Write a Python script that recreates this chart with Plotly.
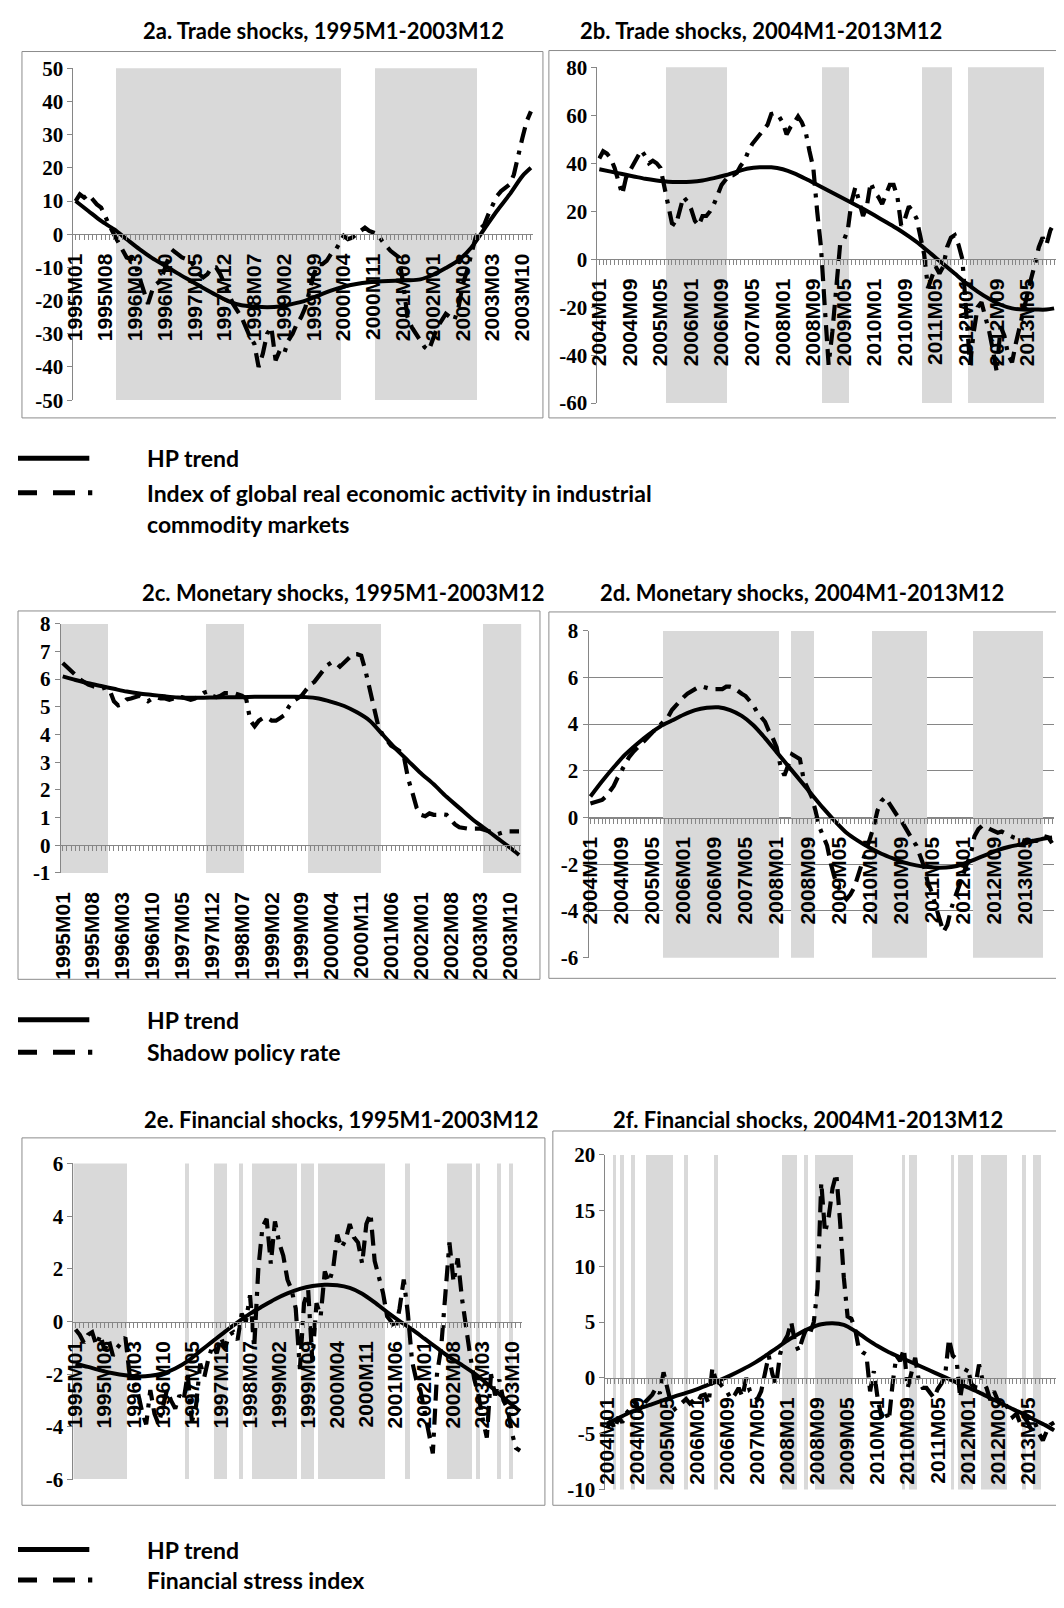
import plotly.graph_objects as go

# The page adds an 8px body margin, so the figure is sized to fill the 1064x1608 window exactly
OFF = 8
FW, FH = 1064 - 2 * OFF, 1608 - 2 * OFF


def month_labels(y0, y1):
    return [f"{y}M{m:02d}" for y in range(y0, y1 + 1) for m in range(1, 13)]


MONTHS_1 = month_labels(1995, 2003)   # 108 months
MONTHS_2 = month_labels(2004, 2013)   # 120 months

TICKS_1 = ["1995M01", "1995M08", "1996M03", "1996M10", "1997M05", "1997M12", "1998M07",
           "1999M02", "1999M09", "2000M04", "2000M11", "2001M06", "2002M01", "2002M08",
           "2003M03", "2003M10"]
TICKS_2 = ["2004M01", "2004M09", "2005M05", "2006M01", "2006M09", "2007M05", "2008M01",
           "2008M09", "2009M05", "2010M01", "2010M09", "2011M05", "2012M01", "2012M09",
           "2013M05"]

# ---------------- HP trends (read every 3rd month, plus the last month) ----------------
HP_A = [10, 7, 4, 1.5, -1.5, -4.5, -7.2, -9.5, -11.8, -14, -16.2, -18.3, -20.2, -21.4, -21.8,
        -22, -21.8, -21, -20, -18.5, -17, -15.8, -15, -14.5, -14.2, -14, -13.9, -13.6, -12.2,
        -10.2, -7.8, -4, 1.5, 7, 12, 17.5, 20]
HP_B = [37.5, 36.5, 35.5, 34.5, 33.5, 32.8, 32.3, 32.2, 32.3, 32.8, 33.8, 35, 36.5, 37.8, 38.3,
        38.3, 37.5, 35.8, 33.5, 31, 28.5, 26, 23.5, 21, 18.3, 15.5, 12.7, 9.5, 6, 2, -2, -6,
        -10, -13.5, -16.5, -19, -20.5, -21, -21, -21, -20.5]
HP_C = [6.1, 5.97, 5.85, 5.75, 5.65, 5.55, 5.48, 5.43, 5.38, 5.34, 5.33, 5.33, 5.34, 5.35, 5.35,
        5.36, 5.36, 5.36, 5.36, 5.35, 5.3, 5.18, 5.03, 4.8, 4.5, 4.0, 3.5, 3.05, 2.6, 2.2, 1.75,
        1.35, 0.95, 0.6, 0.25, -0.1, -0.35]
HP_D = [0.9, 1.55, 2.15, 2.7, 3.15, 3.55, 3.9, 4.15, 4.4, 4.6, 4.7, 4.72, 4.6, 4.35, 3.95, 3.4,
        2.8, 2.2, 1.6, 1.0, 0.4, -0.15, -0.65, -1.0, -1.3, -1.55, -1.75, -1.93, -2.05, -2.12,
        -2.15, -2.12, -2.0, -1.8, -1.6, -1.4, -1.25, -1.15, -1.02, -0.9, -0.85]
HP_E = [-1.6, -1.72, -1.85, -1.96, -2.04, -2.08, -2.06, -1.97, -1.78, -1.5, -1.12, -0.75, -0.38,
        -0.03, 0.3, 0.58, 0.85, 1.07, 1.24, 1.35, 1.4, 1.38, 1.28, 1.06, 0.73, 0.36, 0.02, -0.3,
        -0.65, -1.0, -1.35, -1.65, -1.97, -2.35, -2.75, -3.15, -3.4]
HP_F = [-4.1, -3.6, -3.1, -2.7, -2.35, -2.0, -1.65, -1.35, -1.0, -0.6, -0.2, 0.25, 0.75, 1.3,
        1.95, 2.65, 3.35, 3.95, 4.45, 4.8, 4.9, 4.75, 4.2, 3.5, 2.85, 2.3, 1.85, 1.4, 0.95, 0.5,
        0.05, -0.4, -0.85, -1.3, -1.8, -2.3, -2.8, -3.25, -3.8, -4.3, -4.7]

# ---------------- Monthly indices (one row per year) ----------------
# Index of global real economic activity in industrial commodity markets
ACT_A = [10, 12, 11, 12, 10.5, 9, 8, 5, 2.5, 0, -2.5, -5,
         -7, -7.5, -9, -13, -17, -21, -17, -15, -14, -10, -6.5, -5,
         -6, -7, -7.5, -8, -10, -12, -13, -12, -10, -10, -12, -15,
         -18, -21, -23, -25, -28, -31, -33, -40, -36, -30, -28, -38,
         -35, -36, -32, -30, -27, -25, -22, -17, -12, -9, -9, -8,
         -6, -5, -3, -0.5, -1.5, -1, 0, 1, 2, 1, 0.5, 0,
         -2, -3.7, -5, -6, -7, -15, -25, -28, -30, -32, -34, -35,
         -31, -28, -26, -24, -25, -26, -22, -15, -11, -6, -1, 1.5,
         2.8, 6, 8.5, 11.5, 13, 14, 15, 18, 24, 29, 34, 37]
ACT_B = [42, 45, 44, 42, 38, 33, 27, 34, 37, 40, 43, 45.5,
         43, 40, 41, 40, 38, 30, 22, 15, 14, 20, 26, 24,
         21, 16, 14, 18, 18, 20, 23, 27, 31, 33, 35, 35,
         36, 39, 41, 45, 48, 50, 52, 54.5, 56, 60.5, 61, 59.5,
         57, 52, 55, 57, 59.5, 57, 53, 45, 38, 20, 5, -20,
         -44, -30, -10, 6, 8, 12, 24, 30, 24, 18, 22, 32,
         28, 26, 23, 27, 31, 31, 26, 14, 17, 22, 20, 17,
         10, 2, -12, -8, -3, -6, -3, 5, 9, 10, 6, 0,
         -20, -44, -30, -20, -18, -24, -30, -38, -47, -28, -32, -40,
         -43, -35, -28, -22, -15, -8, -2, 5, 9, 6, 12, 15]
# Shadow policy rate
RATE_C = [6.58, 6.45, 6.3, 6.15, 6.0, 5.9, 5.8, 5.75, 5.7, 5.65, 5.7, 5.6,
          5.2, 5.05, 5.1, 5.27, 5.3, 5.35, 5.4, 5.3, 5.2, 5.3, 5.35, 5.3,
          5.3, 5.25, 5.3, 5.3, 5.35, 5.3, 5.25, 5.3, 5.4, 5.5, 5.55, 5.4,
          5.35, 5.4, 5.5, 5.5, 5.5, 5.45, 5.4, 5.3, 4.5, 4.3, 4.5, 4.6,
          4.6, 4.5, 4.5, 4.6, 4.7, 5.0, 5.2, 5.3, 5.4, 5.6, 5.8, 5.9,
          6.1, 6.3, 6.5, 6.6, 6.6, 6.45, 6.6, 6.8, 6.9, 6.9, 6.85, 6.3,
          5.6, 4.9, 4.3, 4.0, 3.8, 3.6, 3.5, 3.4, 3.2, 2.4, 1.9, 1.35,
          1.1, 1.05, 1.15, 1.1, 1.1, 1.12, 1.1, 0.9, 0.75, 0.65, 0.62, 0.6,
          0.6, 0.6, 0.6, 0.55, 0.5, 0.45, 0.4, 0.45, 0.5, 0.5, 0.5, 0.5]
RATE_D = [0.6, 0.65, 0.7, 0.75, 0.9, 1.15, 1.35, 1.7, 2.0, 2.3, 2.6, 2.8,
          3.0, 3.15, 3.3, 3.5, 3.65, 3.8, 3.95, 4.1, 4.3, 4.6, 4.8, 5.0,
          5.15, 5.3, 5.4, 5.5, 5.6, 5.6, 5.55, 5.5, 5.5, 5.5, 5.5, 5.6,
          5.6, 5.55, 5.4, 5.3, 5.2, 5.0, 4.8, 4.5, 4.3, 4.1, 3.7, 3.4,
          3.0, 2.2, 1.8, 2.3, 2.7, 2.6, 2.5, 1.6, 1.2, 0.9, 0.3, -0.4,
          -0.8, -1.2, -2.0, -2.6, -3.0, -3.3, -3.5, -3.3, -3.0, -2.5, -2.0, -1.5,
          -0.9, -0.4, 0.3, 0.7, 0.87, 0.6, 0.3, 0.1, -0.1, -0.4, -0.7, -0.95,
          -1.2, -1.6, -2.1, -2.8, -3.2, -3.8, -4.3, -4.9, -4.6, -3.9, -3.4, -3.0,
          -2.5, -2.0, -1.6, -0.8, -0.5, -0.35, -0.4, -0.5, -0.6, -0.65, -0.6, -0.7,
          -0.8, -0.85, -0.9, -0.95, -1.0, -1.05, -1.0, -1.0, -0.95, -0.8, -0.85, -1.1]
# Financial stress index
FSI_E = [-0.3, -0.5, -0.8, -0.5, -0.4, -0.9, -0.5, -1.1, -0.7, -1.3, -1.0, -0.8,
         -0.6, -2.0, -2.4, -2.7, -3.4, -3.9, -2.6, -3.5, -3.9, -3.2, -2.6, -3.0,
         -3.3, -2.8, -3.0, -2.0, -3.8, -3.2, -1.6, -2.1, -1.4, -0.9, -1.2, -0.6,
         -1.0, -0.5, -0.4, -0.7, 0.3, 0.0, 1.0, -1.0, 2.0, 3.6, 3.9, 2.2,
         3.8, 3.0, 2.5, 1.6, 1.2, 0.5, -1.8, 0.7, 1.2, -1.5, 0.7, 0.2,
         1.9, 1.5, 2.0, 3.3, 2.8, 3.1, 3.7, 3.2, 3.0, 2.2, 3.7, 4.1,
         2.3, 1.7, 1.1, 0.2, 0.0, -0.3, 0.5, 1.6, 0.3, -1.5, -2.2, -2.6,
         -3.4, -4.3, -5.0, -2.0, -1.0, 1.0, 3.0, 1.5, 2.4, 0.9, -0.3, -1.3,
         -2.2, -2.8, -3.7, -4.4, -2.0, -2.8, -2.2, -3.0, -3.3, -4.2, -4.8, -4.9]
FSI_F = [-4.5, -3.8, -4.6, -3.5, -4.0, -3.2, -2.8, -2.0, -2.6, -2.9, -2.2, -1.8,
         -1.5, -0.9, -1.4, 0.5, -0.9, -2.3, -2.8, -2.5, -2.2, -1.9, -2.3, -2.0,
         -2.2, -1.6, -1.5, -2.3, 0.9, -0.3, -0.5, -0.9, -1.3, -1.9, -1.5, -0.9,
         -1.7, 0.0, -1.2, -1.5, -1.9, -1.2, 0.6, 2.0, 0.3, -0.6, 2.1, 3.2,
         3.8, 5.0, 3.2, 2.4, 3.5, 4.4, 4.0, 5.0, 8.0, 17.5, 13.0, 14.5,
         17.0, 18.3, 14.0, 9.0, 5.5, 5.3, 4.4, 2.6, 2.3, 2.1, -1.2, 0.6,
         -1.8, -3.5, -2.9, -3.8, -0.5, 2.0, 1.5, 2.6, -0.9, 0.3, 1.8, -0.3,
         -0.9, -0.9, -1.3, -1.8, -1.0, -0.5, 0.3, 3.5, 2.0, 1.7, -1.8, 0.3,
         0.9, -0.6, -0.8, 1.2, -0.3, -0.9, -2.0, -1.2, -2.0, -2.6, -2.3, -3.0,
         -3.5, -3.2, -4.1, -3.5, -4.0, -4.7, -4.1, -5.0, -5.6, -4.8, -4.2, -4.0]

# ---------------- Shaded periods (first month, last month) ----------------
SHADE_A = [("1995M11", "2000M03"), ("2000M12", "2002M11")]
SHADE_B = [("2005M07", "2006M10"), ("2008M12", "2009M06"), ("2011M02", "2011M09"),
           ("2012M02", "2013M09")]
SHADE_C = [("1995M01", "1995M11"), ("1997M11", "1998M07"), ("1999M11", "2001M03"),
           ("2003M04", "2003M12")]
SHADE_D = [("2005M08", "2008M01"), ("2008M05", "2008M10"), ("2010M02", "2011M03"),
           ("2012M04", "2013M09")]
SHADE_E = [("1995M01", "1996M01"), ("1997M04", "1997M04"), ("1997M11", "1998M01"),
           ("1998M05", "1998M05"), ("1998M08", "1999M06"), ("1999M08", "1999M10"),
           ("1999M12", "2001M03"), ("2001M09", "2001M09"), ("2002M07", "2002M12"),
           ("2003M02", "2003M02"), ("2003M07", "2003M07"), ("2003M10", "2003M10")]
SHADE_F = [("2004M03", "2004M03"), ("2004M05", "2004M05"), ("2004M08", "2004M08"),
           ("2004M12", "2005M06"), ("2005M10", "2005M10"), ("2006M06", "2006M06"),
           ("2007M12", "2008M03"), ("2008M06", "2008M06"), ("2008M09", "2009M06"),
           ("2010M08", "2010M08"), ("2010M10", "2010M11"), ("2011M09", "2011M09"),
           ("2011M11", "2012M02"), ("2012M05", "2012M11"), ("2013M04", "2013M04"),
           ("2013M07", "2013M08")]

TITLES = ["2a. Trade shocks, 1995M1-2003M12", "2b. Trade shocks, 2004M1-2013M12",
          "2c. Monetary shocks, 1995M1-2003M12", "2d. Monetary shocks, 2004M1-2013M12",
          "2e. Financial shocks, 1995M1-2003M12", "2f. Financial shocks, 2004M1-2013M12"]
Y_RANGES = [(-50, 50, 10), (-60, 80, 20), (-1, 8, 1), (-6, 8, 2), (-6, 6, 2), (-10, 20, 5)]

PANELS = [
    dict(months=MONTHS_1, ticks=TICKS_1, hp=HP_A, idx=ACT_A, shade=SHADE_A),
    dict(months=MONTHS_2, ticks=TICKS_2, hp=HP_B, idx=ACT_B, shade=SHADE_B),
    dict(months=MONTHS_1, ticks=TICKS_1, hp=HP_C, idx=RATE_C, shade=SHADE_C),
    dict(months=MONTHS_2, ticks=TICKS_2, hp=HP_D, idx=RATE_D, shade=SHADE_D),
    dict(months=MONTHS_1, ticks=TICKS_1, hp=HP_E, idx=FSI_E, shade=SHADE_E),
    dict(months=MONTHS_2, ticks=TICKS_2, hp=HP_F, idx=FSI_F, shade=SHADE_F),
]

# ---------------- layout geometry (window pixels) ----------------
GEOM = [
    dict(x0=64, x1=528, top=57, bot=394, frame=(12, 40, 538, 412), title=(316, 19)),
    dict(x0=593, x1=1058, top=56, bot=397, frame=(544, 39, 1063, 412), title=(758, 19)),
    dict(x0=51, x1=516, top=621, bot=874, frame=(8, 608, 535, 982), title=(336, 589)),
    dict(x0=584, x1=1054, top=628, bot=960, frame=(544, 609, 1063, 981), title=(800, 589)),
    dict(x0=64, x1=517, top=1169, bot=1490, frame=(12, 1143, 540, 1516), title=(335, 1124)),
    dict(x0=601, x1=1064, top=1160, bot=1500, frame=(548, 1136, 1063, 1516), title=(806, 1124)),
]

AXIS = "#868686"
SHADE = "#d9d9d9"
DASH = "16px,8px,16px,8px,4px,8px"
XT_FONT = dict(family="Liberation Sans, Arial, sans-serif", size=21, color="black", weight="bold")
YT_FONT = dict(family="Liberation Serif, Times New Roman, serif", size=21, color="black", weight="bold")
TXT_FONT = dict(family="Lato, Carlito, sans-serif", size=22, color="black", weight="bold")
LEG_FONT = dict(family="Lato, Carlito, sans-serif", size=23, color="black", weight="bold")


def fx(px):
    return (px - OFF) / FW


def fy(py):
    return 1 - (py - OFF) / FH


fig = go.Figure()
layout = dict(width=FW, height=FH, margin=dict(l=0, r=0, t=0, b=0), paper_bgcolor="white",
              plot_bgcolor="rgba(0,0,0,0)", showlegend=False, bargap=0, shapes=[], annotations=[])

for k, (p, g) in enumerate(zip(PANELS, GEOM)):
    sfx = "" if k == 0 else str(k + 1)
    xn, yn = "x" + sfx, "y" + sfx
    months = p["months"]
    n = len(months)
    ymin, ymax, dt = Y_RANGES[k]

    shade_idx = []
    for s, e in p["shade"]:
        shade_idx += list(range(months.index(s), months.index(e) + 1))
    hp_x = list(range(0, n, 3)) + [n - 1]
    assert len(hp_x) == len(p["hp"]) and len(p["idx"]) == n

    fig.add_trace(go.Bar(x=shade_idx, y=[ymax - ymin] * len(shade_idx), base=ymin, width=1,
                         marker=dict(color=SHADE, line=dict(width=0)), xaxis=xn, yaxis=yn,
                         hoverinfo="skip"))
    fig.add_trace(go.Scatter(x=hp_x, y=p["hp"], mode="lines", xaxis=xn, yaxis=yn,
                             line=dict(color="black", width=4, shape="spline", smoothing=0.8)))
    dx = "x7" if k == 2 else xn
    fig.add_trace(go.Scatter(x=list(range(n)), y=p["idx"], mode="lines", xaxis=dx, yaxis=yn,
                             line=dict(color="black", width=4.2, dash=DASH)))

    yd = [fy(g["bot"]), fy(g["top"])]
    xd = [fx(g["x0"]), min(1.0, fx(g["x1"]))]
    zero_pos = yd[0] + (0 - ymin) / (ymax - ymin) * (yd[1] - yd[0])
    ticktext = [m if m in p["ticks"] else "" for m in months]
    layout["xaxis" + sfx] = dict(
        domain=xd, range=[-0.5, n - 0.5], anchor="free", position=zero_pos,
        showline=True, linecolor=AXIS, linewidth=1, ticks="outside", ticklen=5,
        tickcolor=AXIS, tickwidth=1, tickmode="array", tickvals=list(range(n)),
        ticktext=ticktext, tickangle=-90, tickfont=XT_FONT, showgrid=False,
        zeroline=False, ticklabelstandoff=5, showticklabels=(k != 2), fixedrange=True)
    yv = list(range(ymin, ymax + 1, dt))
    layout["yaxis" + sfx] = dict(
        domain=yd, range=[ymin, ymax], anchor=xn, showline=True, linecolor=AXIS,
        linewidth=1, ticks="outside", ticklen=5, tickcolor=AXIS, tickmode="array",
        tickvals=yv, ticktext=[str(v) for v in yv], tickfont=YT_FONT,
        showgrid=(k == 3), gridcolor=AXIS, gridwidth=1, zeroline=False, fixedrange=True)
    if k == 2:
        layout["xaxis7"] = dict(
            overlaying="x3", range=[-0.5, n - 0.5], anchor="free", position=yd[0],
            showline=False, ticks="", tickmode="array", tickvals=list(range(n)),
            ticktext=ticktext, tickangle=-90, tickfont=XT_FONT, showgrid=False,
            zeroline=False, ticklabelstandoff=14, fixedrange=True)

    fx0, fy0, fx1, fy1 = g["frame"]
    layout["shapes"].append(dict(type="rect", xref="paper", yref="paper", x0=fx(fx0), x1=fx(fx1),
                                 y0=fy(fy1), y1=fy(fy0), line=dict(color="#8c8c8c", width=1),
                                 layer="below"))
    tx, ty = g["title"]
    layout["annotations"].append(dict(text=TITLES[k], x=fx(tx), y=fy(ty), xref="paper",
                                      yref="paper", showarrow=False, xanchor="center",
                                      yanchor="middle", font=TXT_FONT))

# ---------------- legends ----------------
LEGENDS = [
    (453, 488, ["HP trend", "Index of global real economic activity in industrial",
                "commodity markets"]),
    (1023, 1056, ["HP trend", "Shadow policy rate"]),
    (1561, 1592, ["HP trend", "Financial stress index"]),
]
for y_solid, y_dash, texts in LEGENDS:
    layout["shapes"].append(dict(type="line", xref="paper", yref="paper", x0=fx(8), x1=fx(80),
                                 y0=fy(y_solid), y1=fy(y_solid),
                                 line=dict(color="black", width=5)))
    layout["shapes"].append(dict(type="line", xref="paper", yref="paper", x0=fx(8), x1=fx(83),
                                 y0=fy(y_dash), y1=fy(y_dash),
                                 line=dict(color="black", width=5,
                                           dash="19px,16px,22px,13px,5px,16px")))
    ys = [y_solid, y_dash, y_dash + 32]
    for t, yy in zip(texts, ys):
        layout["annotations"].append(dict(text=t, x=fx(136), y=fy(yy), xref="paper",
                                          yref="paper", showarrow=False, xanchor="left",
                                          yanchor="middle", font=LEG_FONT))

fig.update_layout(**layout)
fig.write_html("out.html", config={"displayModeBar": False})
